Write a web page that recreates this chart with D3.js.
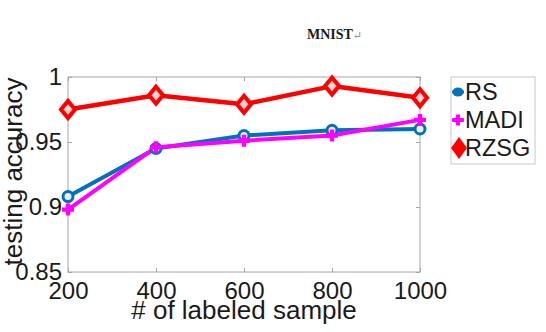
<!DOCTYPE html>
<html>
<head>
<meta charset="utf-8">
<script src="https://cdn.jsdelivr.net/npm/d3@7/dist/d3.min.js"></script>
<style>
  html, body { margin: 0; padding: 0; background: #fff; }
  svg { display: block; }
  text { font-family: Arial, "Liberation Sans", sans-serif; fill: #1a1a1a; }
</style>
</head>
<body>
<svg id="chart" width="546" height="332"></svg>
<script>
// Labeled-sample counts on the x axis
const samples = [200, 400, 600, 800, 1000];
// Testing accuracy for each method
const rsAcc   = [0.908, 0.945, 0.955, 0.959, 0.960];
const madiAcc = [0.898, 0.946, 0.951, 0.955, 0.967];
const rzsgAcc = [0.975, 0.986, 0.979, 0.993, 0.984];
const xTicks = [200, 400, 600, 800, 1000];
const yTicks = [0.85, 0.9, 0.95, 1];
const seriesNames = ["RS", "MADI", "RZSG"];
const seriesColors = ["#0072BD", "#FF00FF", "#FF0000"];

const svg = d3.select("#chart");
const plotL = 68, plotR = 420, plotT = 77, plotB = 272;

const x = d3.scaleLinear().domain([200, 1000]).range([plotL, plotR]);
const y = d3.scaleLinear().domain([0.85, 1]).range([plotB, plotT]);

const axisColor = "#a6a6a6";

// Title with paragraph mark
const title = svg.append("text")
  .attr("x", 307).attr("y", 39)
  .style("font-family", "'Liberation Serif', 'DejaVu Serif', serif")
  .style("font-size", "14px")
  .style("font-weight", "bold");
title.append("tspan").text("MNIST");
title.append("tspan").style("fill", "#888").style("font-size", "11px")
  .style("font-weight", "normal").text("\u21B5");

// Axes box
svg.append("rect")
  .attr("x", plotL).attr("y", plotT)
  .attr("width", plotR - plotL).attr("height", plotB - plotT)
  .attr("fill", "none").attr("stroke", axisColor).attr("stroke-width", 1);

// Bottom axis with inward ticks
const xAxis = svg.append("g").attr("transform", `translate(0,${plotB})`)
  .call(d3.axisBottom(x).tickValues(xTicks).tickSizeInner(-4).tickSizeOuter(0).tickPadding(10).tickFormat(d3.format("d")));
xAxis.select(".domain").remove();
xAxis.selectAll("line").attr("stroke", axisColor);
xAxis.selectAll("text").style("font-size", "24px").style("font-family", "Arial, 'Liberation Sans', sans-serif").attr("fill", "#1a1a1a");

// Top mirrored ticks
const xAxisTop = svg.append("g").attr("transform", `translate(0,${plotT})`)
  .call(d3.axisTop(x).tickValues(xTicks).tickSizeInner(-4).tickSizeOuter(0).tickFormat(""));
xAxisTop.select(".domain").remove();
xAxisTop.selectAll("line").attr("stroke", axisColor);

// Left axis
const yAxis = svg.append("g").attr("transform", `translate(${plotL},0)`)
  .call(d3.axisLeft(y).tickValues(yTicks).tickSizeInner(-4).tickSizeOuter(0).tickPadding(6)
    .tickFormat(d => d === 1 ? "1" : String(d)));
yAxis.select(".domain").remove();
yAxis.selectAll("line").attr("stroke", axisColor);
yAxis.selectAll("text").style("font-size", "24px").style("font-family", "Arial, 'Liberation Sans', sans-serif").attr("fill", "#1a1a1a");

// Right mirrored ticks
const yAxisRight = svg.append("g").attr("transform", `translate(${plotR},0)`)
  .call(d3.axisRight(y).tickValues(yTicks).tickSizeInner(-4).tickSizeOuter(0).tickFormat(""));
yAxisRight.select(".domain").remove();
yAxisRight.selectAll("line").attr("stroke", axisColor);

// Axis labels
svg.append("text")
  .attr("x", (plotL + plotR) / 2).attr("y", 319)
  .attr("text-anchor", "middle")
  .style("font-size", "26px")
  .text("# of labeled sample");

svg.append("text")
  .attr("transform", `translate(22,${(plotT + plotB) / 2 - 3}) rotate(-90)`)
  .attr("text-anchor", "middle")
  .style("font-size", "26px")
  .text("testing accuracy");

// Series lines
const line = d3.line().x((d, i) => x(samples[i])).y(d => y(d));
const allSeries = [rsAcc, madiAcc, rzsgAcc];

allSeries.forEach((vals, k) => {
  svg.append("path")
    .datum(vals)
    .attr("d", line)
    .attr("fill", "none")
    .attr("stroke", seriesColors[k])
    .attr("stroke-width", k === 2 ? 4.5 : 4)
    .attr("stroke-linejoin", "round");
});

// Marker shapes
const diamond = (cx, cy, w, h) => `M${cx},${cy - h}L${cx + w},${cy}L${cx},${cy + h}L${cx - w},${cy}Z`;
const plusPath = (cx, cy, s, t) =>
  `M${cx - t},${cy - s}H${cx + t}V${cy - t}H${cx + s}V${cy + t}H${cx + t}V${cy + s}H${cx - t}V${cy + t}H${cx - s}V${cy - t}H${cx - t}Z`;

// RS: open circles
svg.append("g").selectAll("circle").data(rsAcc).join("circle")
  .attr("cx", (d, i) => x(samples[i])).attr("cy", d => y(d))
  .attr("r", 5).attr("fill", "#e8f0f8")
  .attr("stroke", seriesColors[0]).attr("stroke-width", 3);

// MADI: plus markers
svg.append("g").selectAll("path").data(madiAcc).join("path")
  .attr("d", (d, i) => plusPath(x(samples[i]), y(d), 6, 2.2))
  .attr("fill", seriesColors[1]);

// RZSG: diamonds
svg.append("g").selectAll("path").data(rzsgAcc).join("path")
  .attr("d", (d, i) => diamond(x(samples[i]), y(d), 7, 8.5))
  .attr("fill", "#ffd0d0")
  .attr("stroke", seriesColors[2]).attr("stroke-width", 4)
  .attr("stroke-linejoin", "miter");

// Legend
const lg = svg.append("g");
lg.append("rect")
  .attr("x", 451).attr("y", 77).attr("width", 84).attr("height", 87)
  .attr("fill", "#fff").attr("stroke", "#c8c8c8").attr("stroke-width", 1);

const legendRows = [100, 128, 156];
seriesNames.forEach((name, k) => {
  const cy = legendRows[k] - 8;
  const c = seriesColors[k];
  lg.append("line")
    .attr("x1", 452).attr("x2", 464).attr("y1", cy).attr("y2", cy)
    .attr("stroke", c).attr("stroke-width", 3);
  if (k === 0) {
    lg.append("ellipse").attr("cx", 458).attr("cy", cy).attr("rx", 5.5).attr("ry", 4.5).attr("fill", c);
  } else if (k === 1) {
    lg.append("path").attr("d", plusPath(458, cy, 5.5, 2)).attr("fill", c);
  } else {
    lg.append("path").attr("d", diamond(459, cy, 8, 11)).attr("fill", c);
  }
  lg.append("text")
    .attr("x", 465).attr("y", legendRows[k])
    .style("font-size", "23.5px")
    .text(name);
});
</script>
</body>
</html>
